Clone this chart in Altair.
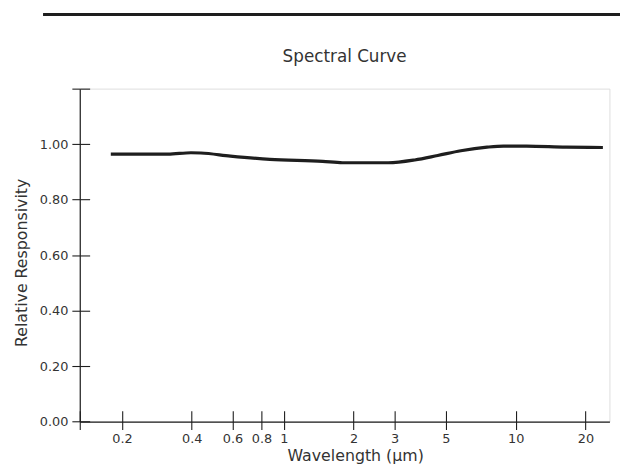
import altair as alt
import pandas as pd

# Data
wavelength = [0.179, 0.316, 0.397, 0.438, 0.588, 0.87, 1.47, 1.79, 2.82, 3.67,
              4.61, 5.8, 7.53, 8.87, 11.15, 16.5, 23.8]
response = [0.964, 0.964, 0.969, 0.968, 0.957, 0.945, 0.938, 0.933, 0.933, 0.943,
            0.959, 0.976, 0.989, 0.993, 0.993, 0.989, 0.988]

x_ticks = [0.1315, 0.2, 0.4, 0.6, 0.8, 1, 2, 3, 5, 10, 20]
y_ticks = [0.0, 0.2, 0.4, 0.6, 0.8, 1.0, 1.2]
x_domain = [0.1315, 25.4]
y_domain = [0.0, 1.2]

df = pd.DataFrame({"wl": wavelength, "resp": response})

FONT = "DejaVu Sans"
TXT = "#333333"
INK = "#1e1e1e"

W = 536.6
H = 337.3

xscale = alt.Scale(type="log", domain=x_domain, nice=False)
yscale = alt.Scale(domain=y_domain, nice=False, zero=True)

x_axis_main = alt.Axis(
    orient="bottom", values=x_ticks,
    labelExpr="datum.value < 0.15 ? '' : datum.value >= 1 ? format(datum.value, 'd') : format(datum.value, '.1f')",
    tickSize=8, tickColor=INK, tickWidth=1.1, domainColor=INK, domainWidth=1.2,
    labelFontSize=13, labelColor=TXT, labelFont=FONT, labelPadding=3,
    labelFlush=False, labelOverlap=False, grid=False,
    title="Wavelength (μm)", titleFont=FONT, titleFontSize=16, titleFontWeight="normal",
    titleColor=TXT, titleX=279, titleY=39, titleAlign="center", titleBaseline="alphabetic",
)
y_axis_main = alt.Axis(
    orient="left", values=y_ticks,
    labelExpr="datum.value > 1.1 ? '' : format(datum.value, '.2f')",
    tickSize=8, tickColor=INK, tickWidth=1.1, domainColor=INK, domainWidth=1.2,
    labelFontSize=13, labelColor=TXT, labelFont=FONT, labelPadding=4,
    labelFlush=False, labelOverlap=False, grid=False,
    title="Relative Responsivity", titleFont=FONT, titleFontSize=16, titleFontWeight="normal",
    titleColor=TXT, titleX=-58.7, titleY=176, titleAlign="center", titleBaseline="middle",
    titleAngle=270,
)
x_axis_inner = alt.Axis(
    orient="bottom", values=x_ticks, offset=-11, tickSize=11, tickColor=INK, tickWidth=1.1,
    labels=False, domain=False, grid=False, title=None,
)
y_axis_inner = alt.Axis(
    orient="left", values=y_ticks, offset=-10, tickSize=10, tickColor=INK, tickWidth=1.1,
    labels=False, domain=False, grid=False, title=None,
)

line = alt.Chart(df).mark_line(
    color=INK, strokeWidth=3.2, interpolate="monotone", clip=True
).encode(
    x=alt.X("wl:Q", scale=xscale, axis=x_axis_main),
    y=alt.Y("resp:Q", scale=yscale, axis=y_axis_main),
)

inner = alt.Chart(df).mark_line(strokeOpacity=0).encode(
    x=alt.X("wl:Q", scale=xscale, axis=x_axis_inner),
    y=alt.Y("resp:Q", scale=yscale, axis=y_axis_inner),
)

top_rule = alt.Chart(df).mark_rule(color=INK, strokeWidth=3).encode(
    x=alt.value(-36.4), x2=alt.value(560), y=alt.value(-75)
)

chart = alt.layer(line, inner, top_rule).resolve_axis(
    x="independent", y="independent"
).properties(
    width=W, height=H,
    title=alt.TitleParams(
        "Spectral Curve", font=FONT, fontSize=17, fontWeight="normal", color=TXT,
        anchor="middle", baseline="alphabetic", offset=-66.8,
    ),
    autosize=alt.AutoSizeParams(type="none"),
    padding={"left": 72.7, "top": 78.7, "right": 10.7, "bottom": 42.5},
).configure_view(
    stroke=INK, strokeWidth=1.1
).configure(background="white")

chart.save("out.html", embed_options={"renderer": "svg", "actions": False})
